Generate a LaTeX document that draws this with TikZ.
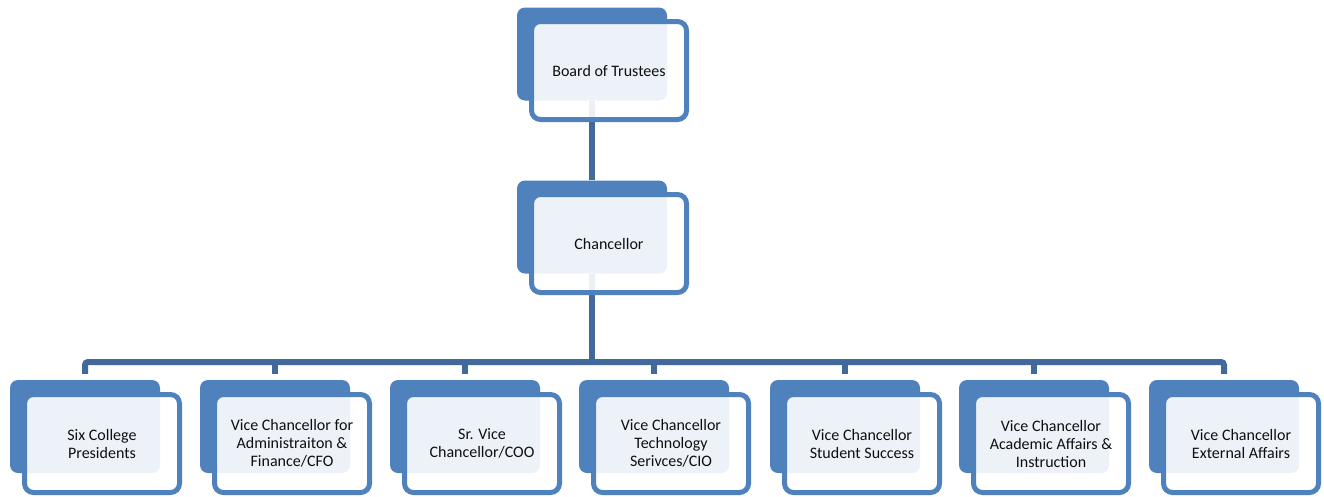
\documentclass[tikz,border=0pt]{standalone}
\usepackage{fontspec}
\setmainfont{Carlito}
\definecolor{accent}{RGB}{79,129,189}
\definecolor{connc}{RGB}{65,105,155}
\definecolor{txt}{RGB}{15,15,15}
\begin{document}
\begin{tikzpicture}[x=1pt,y=-1pt,
  backbox/.style={rectangle, rounded corners=8pt, fill=accent, draw=none,
    minimum width=150pt, minimum height=93pt, inner sep=0pt},
  frontbox/.style={rectangle, rounded corners=9pt, draw=accent, line width=5pt,
    fill=white, fill opacity=0.9, text opacity=1, text=txt,
    minimum width=155pt, minimum height=98pt, inner sep=0pt, align=center,
    font=\fontsize{16}{18}\selectfont},
  conn/.style={draw=connc, line width=6pt}]
\useasboundingbox (0,0) rectangle (1324,496);
\fill[white] (0,0) rectangle (1324,496);
% back boxes
\node[backbox] (b0) at (592,54) {};
\node[backbox] (b1) at (592,227) {};
\foreach \i/\l in {1/10,2/200,3/390,4/579,5/770,6/959,7/1149}{
  \node[backbox] (p\i) at (\l+75,426.5) {};
}
\coordinate (bus) at (592,362);
% connectors
\draw[conn] (b0.south) -- (b1.north);
\draw[conn] (b1.south) -- (bus);
\draw[conn, rounded corners=3pt] ([yshift=6pt]p1.north) |- (bus) -| ([yshift=6pt]p7.north);
\foreach \i in {2,3,4,5,6}{
  \draw[conn] ([yshift=6pt]p\i.north) -- (p\i.north |- bus);
}
% front boxes
\node[frontbox] (f0) at (609,70.5) {Board of Trustees};
\node[frontbox] (f1) at (609,243.5) {Chancellor};
\node[frontbox] (q1) at (10+92,443.5) {Six College\\Presidents};
\node[frontbox] (q2) at (200+92,443.5) {Vice Chancellor for\\Administraiton \&\\Finance/CFO};
\node[frontbox] (q3) at (390+92,443.5) {Sr. Vice\\Chancellor/COO};
\node[frontbox] (q4) at (579+92,443.5) {Vice Chancellor\\Technology\\Serivces/CIO};
\node[frontbox] (q5) at (770+92,443.5) {Vice Chancellor\\Student Success};
\node[frontbox] (q6) at (959+92,443.5) {Vice Chancellor\\Academic Affairs \&\\Instruction};
\node[frontbox] (q7) at (1149+92,443.5) {Vice Chancellor\\External Affairs};
\end{tikzpicture}
\end{document}
